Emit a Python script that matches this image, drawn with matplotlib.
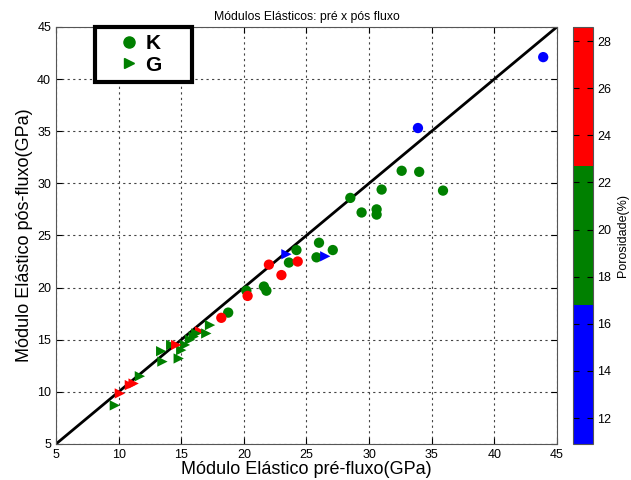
import numpy as np
import matplotlib
matplotlib.use('Agg')
import matplotlib.pyplot as plt
from matplotlib.colors import ListedColormap, Normalize
from matplotlib.lines import Line2D

plt.rcParams['font.family'] = ['Liberation Sans', 'DejaVu Sans']

### DATA ###
# bulk modulus K: pre-flow, post-flow (GPa) and porosity (%)
k_pre  = [43.9, 33.9, 32.6, 34.0, 31.0, 35.9, 28.5, 29.4, 30.6, 30.6, 26.0, 27.1,
          25.8, 24.2, 23.6, 24.3, 22.0, 23.0, 21.6, 21.8, 20.2, 20.3, 18.75, 18.2]
k_post = [42.1, 35.3, 31.2, 31.1, 29.4, 29.3, 28.6, 27.2, 27.5, 27.0, 24.3, 23.6,
          22.9, 23.6, 22.4, 22.5, 22.2, 21.2, 20.1, 19.7, 19.7, 19.2, 17.6, 17.1]
k_poro = [13.0, 14.5, 19.0, 20.0, 18.5, 21.0, 19.5, 20.5, 18.0, 19.0, 20.0, 21.5,
          18.5, 19.5, 20.5, 25.0, 24.0, 26.0, 19.0, 20.0, 21.0, 25.5, 18.0, 24.5]

# shear modulus G
g_pre  = [26.5, 23.4, 16.5, 17.3, 17.0, 16.2, 16.0, 15.7, 15.3, 15.0, 14.8, 14.2,
          13.4, 13.5, 14.6, 11.7, 11.2, 10.9, 10.1, 9.7]
g_post = [23.0, 23.2, 15.8, 16.4, 15.6, 15.6, 15.3, 15.0, 14.5, 14.0, 13.2, 14.5,
          13.9, 12.9, 14.5, 11.5, 10.8, 10.65, 9.85, 8.7]
g_poro = [13.0, 14.5, 25.0, 19.0, 20.0, 18.5, 21.0, 19.5, 20.5, 18.0, 19.0, 20.0,
          21.5, 18.5, 24.0, 19.5, 26.0, 25.5, 24.5, 20.0]

poro_ticks = [12, 14, 16, 18, 20, 22, 24, 26, 28]
poro_min, poro_max = 10.9, 28.6

### PLOT ###
cmap = ListedColormap([(0, 0, 1), (0, 0.5, 0), (1, 0, 0)])
norm = Normalize(vmin=poro_min, vmax=poro_max)
green = (0, 0.5, 0)

fig = plt.figure(figsize=(6.31, 4.8), dpi=100)
ax = fig.add_axes([0.0887, 0.075, 0.794, 0.869])
cax = fig.add_axes([0.908, 0.075, 0.031, 0.869])

ax.plot([5, 45], [5, 45], color='k', linewidth=2, zorder=2)
sc = ax.scatter(k_pre, k_post, c=k_poro, cmap=cmap, norm=norm, marker='o',
                s=55, edgecolors='none', zorder=3)
ax.scatter(g_pre, g_post, c=g_poro, cmap=cmap, norm=norm, marker='>',
           s=55, edgecolors='none', zorder=3)

ax.set_xlim(5, 45)
ax.set_ylim(5, 45)
ax.set_xticks(range(5, 46, 5))
ax.set_yticks(range(5, 46, 5))
ax.grid(True, linestyle=(0, (2, 3)), color='#444444', linewidth=0.8)
ax.tick_params(direction='in', length=4, labelsize=9, top=True, right=True)
for sp in ax.spines.values():
	sp.set_color('#555555')

ax.set_title(u'Módulos Elásticos: pré x pós fluxo', fontsize=8.8, pad=5)
ax.set_xlabel(u'Módulo Elástico pré-fluxo(GPa)', fontsize=13, labelpad=0)
ax.set_ylabel(u'Módulo Elástico pós-fluxo(GPa)', fontsize=13, labelpad=3)

# legend box: markers away from the text, wide padding like the original
handles = [Line2D([], [], marker='o', color=green, linestyle='none', markersize=8),
           Line2D([], [], marker='>', color=green, linestyle='none', markersize=7)]
leg = ax.legend(handles, ['K    ', 'G    '], loc='upper left', bbox_to_anchor=(0.077, 1.0),
                prop={'size': 15, 'weight': 'bold'}, fancybox=False,
                handletextpad=-0.5, borderpad=0.35, labelspacing=0.12,
                handlelength=2.6, borderaxespad=0.0, framealpha=1)
leg.get_frame().set_edgecolor('k')
leg.get_frame().set_linewidth(3)

cb = fig.colorbar(sc, cax=cax, ticks=poro_ticks)
cb.outline.set_edgecolor('#555555')
cax.tick_params(direction='in', length=4, labelsize=9, left=True, right=True)
cb.set_label('Porosidade(%)', fontsize=9, labelpad=4)

fig.savefig('out.png', dpi=100)
